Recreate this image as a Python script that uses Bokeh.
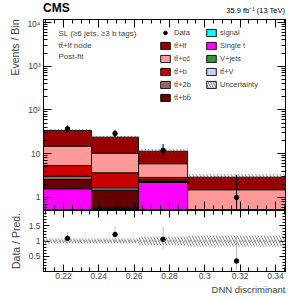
import numpy as np
from bokeh.plotting import figure
from bokeh.models import (FixedTicker, Range1d, LinearAxis, LogAxis, Legend,
                          LegendItem, Label, Title, ColumnDataSource, Span, Div)
from bokeh.layouts import column
from bokeh.embed import file_html
from bokeh.resources import INLINE

# ---------------- data ----------------
edges = [0.2087, 0.2359, 0.2625, 0.2903, 0.3457]
signal   = [0.08, 0.06, 0.06, 0.03]
ttV      = [0.10, 0.24, 0.08, 0.05]
vjets    = [0.05, 0.27, 0.02, 0.02]
single_t = [1.35, 0.01, 2.04, 0.05]
tt_bb    = [1.00, 0.87, 0.18, 0.10]
tt_2b    = [0.49, 0.22, 0.16, 0.05]
tt_b     = [2.32, 2.00, 0.33, 0.10]
tt_cc    = [9.51, 6.63, 3.03, 1.10]
tt_lf    = [19.1, 13.6, 5.50, 1.41]
data     = [37, 29, 12, 1]
data_lo  = [6.0, 5.3, 3.5, 0.83]
data_hi  = [7.1, 6.4, 4.6, 2.30]
rel_unc  = [0.08, 0.08, 0.14, 0.18]

x_ticks = [0.22, 0.24, 0.26, 0.28, 0.30, 0.32, 0.34]
x_tick_labels = ["0.22", "0.24", "0.26", "0.28", "0.3", "0.32", "0.34"]
y_ticks = [1, 10, 100, 1000, 10000]
y_tick_labels = ["1", "10", "10\u00b2", "10\u00b3", "10\u2074"]
r_ticks = [0.5, 1.0, 1.5]
r_tick_labels = ["0.5", "1", "1.5"]

# stack: bottom -> top
components = [
    ("signal", signal, "#00ffff"),
    ("tt\u0304+V", ttV, "#ccccff"),
    ("V+jets", vjets, "#339933"),
    ("Single t", single_t, "#ff00ff"),
    ("tt\u0304+bb\u0304", tt_bb, "#660000"),
    ("tt\u0304+2b", tt_2b, "#996666"),
    ("tt\u0304+b", tt_b, "#cc0000"),
    ("tt\u0304+cc\u0304", tt_cc, "#ff9999"),
    ("tt\u0304+lf", tt_lf, "#990000"),
]

FONT = "Liberation Sans"
left = np.array(edges[:-1])
right = np.array(edges[1:])
centers = (left + right) / 2
ymin, ymax = 0.53, 11700

header = Div(text=(
    '<div style="position:relative;width:291px;height:18px;font-family:\'Liberation Sans\',Arial,sans-serif;color:black;">'
    '<span style="position:absolute;left:43px;top:2px;font-size:12px;font-weight:bold;line-height:12px;">CMS</span>'
    '<span style="position:absolute;right:6px;top:7px;font-size:7.5px;line-height:8px;white-space:nowrap;">'
    '35.9 fb\u207b\u00b9 (13 TeV)</span></div>'),
    width=291, height=18, margin=0)

p = figure(width=291, height=192, y_axis_type="log",
           x_range=Range1d(edges[0], edges[-1]), y_range=Range1d(ymin, ymax),
           output_backend="svg", toolbar_location=None, title_location=None,
           min_border_left=43, min_border_right=6, min_border_top=1,
           min_border_bottom=1)
p.grid.visible = False
p.outline_line_color = "black"
p.background_fill_color = "white"

renderers = {}
bottom = np.full(4, 1e-3)
cum = np.zeros(4)
for name, vals, col in components:
    cum = cum + np.array(vals)
    src = ColumnDataSource(dict(left=left, right=right, bottom=bottom.copy(), top=cum.copy()))
    r = p.quad(left="left", right="right", bottom="bottom", top="top", source=src,
               fill_color=col, line_color="black", line_width=0.9)
    renderers[name] = r
    bottom = cum.copy()
total = cum

unc_src = ColumnDataSource(dict(left=left, right=right,
                                bottom=total * (1 - np.array(rel_unc)),
                                top=total * (1 + np.array(rel_unc))))
p.quad(left="left", right="right", bottom="bottom", top="top", source=unc_src,
       fill_alpha=0, line_alpha=0, hatch_pattern="\\", hatch_color="#444444",
       hatch_scale=7, hatch_weight=0.8, hatch_alpha=0.7)
unc_leg = p.quad(left=[0.5], right=[0.6], bottom=[1.0], top=[2.0], fill_alpha=0,
                 line_color="black", line_width=0.9, hatch_pattern="\\",
                 hatch_color="#444444", hatch_scale=5, hatch_weight=0.8)

d = np.array(data, dtype=float)
dsrc = ColumnDataSource(dict(x=centers, y=d, lo=d - np.array(data_lo), hi=d + np.array(data_hi)))
p.segment(x0="x", x1="x", y0="lo", y1="hi", source=dsrc, line_color="black", line_width=1)
data_r = p.scatter(x="x", y="y", source=dsrc, size=4.5, color="black")

def style_axis(ax, labels=True, major=8, minor=4, ticks=None, standoff=3):
    ax.major_tick_in = major
    ax.major_tick_out = 0
    ax.minor_tick_in = minor
    ax.minor_tick_out = 0
    ax.axis_line_color = "black"
    ax.major_tick_line_color = "black"
    ax.minor_tick_line_color = "black"
    ax.major_label_text_font = FONT
    ax.axis_label = None
    if labels:
        ax.major_label_text_font_size = "8.5px"
        ax.major_label_standoff = standoff
    else:
        ax.major_label_text_font_size = "1px"
        ax.major_label_text_alpha = 0
        ax.major_label_standoff = 0
        ax.major_label_overrides = {t: "" for t in ticks}

xt = FixedTicker(ticks=x_ticks, minor_ticks=[round(0.205 + 0.005 * i, 3) for i in range(30)])
yt = FixedTicker(ticks=y_ticks, minor_ticks=[k * 10.0 ** e for e in range(-1, 4) for k in range(2, 10)])
y_over = {t: l for t, l in zip(y_ticks, y_tick_labels)}

p.xaxis[0].ticker = xt
style_axis(p.xaxis[0], labels=False, ticks=x_ticks)
p.yaxis[0].ticker = yt
p.yaxis[0].major_label_overrides = y_over
style_axis(p.yaxis[0])
ax_top = LinearAxis(ticker=xt)
style_axis(ax_top, labels=False, ticks=x_ticks)
p.add_layout(ax_top, "above")
ax_right = LogAxis(ticker=yt)
style_axis(ax_right, labels=False, ticks=y_ticks)
p.add_layout(ax_right, "right")

p.add_layout(Title(text="Events / Bin", align="right", text_font=FONT,
                   text_font_size="10.5px", text_font_style="normal", standoff=8), "left")

for i, t in enumerate(["SL (\u22656 jets, \u22653 b tags)", "tt\u0304+lf node", "Post-fit"]):
    p.add_layout(Label(x=edges[0], y=ymax, x_offset=15, y_offset=-14 - 11.5 * i, text=t,
                       text_font=FONT, text_font_size="8px", text_baseline="middle"))

leg_common = dict(border_line_alpha=0, background_fill_alpha=0, padding=0, margin=0,
                  glyph_width=12, glyph_height=9, label_height=9, spacing=4,
                  label_standoff=3, label_text_font=FONT, label_text_font_size="7.5px")
items1 = [LegendItem(label="Data", renderers=[data_r])] + \
    [LegendItem(label=n, renderers=[renderers[n]]) for n in
     ["tt\u0304+lf", "tt\u0304+cc\u0304", "tt\u0304+b", "tt\u0304+2b", "tt\u0304+bb\u0304"]]
items2 = [LegendItem(label=n, renderers=[renderers[n]]) for n in
          ["signal", "Single t", "V+jets", "tt\u0304+V"]] + \
    [LegendItem(label="Uncertainty", renderers=[unc_leg])]
p.add_layout(Legend(items=items1, location=(116, 107), **leg_common))
p.add_layout(Legend(items=items2, location=(162, 120), **leg_common))

# ---------------- ratio panel ----------------
q = figure(width=291, height=90, x_range=p.x_range, y_range=Range1d(0, 2),
           output_backend="svg", toolbar_location=None, title_location=None,
           min_border_left=43, min_border_right=6, min_border_top=0,
           min_border_bottom=29)
q.grid.visible = False
q.outline_line_color = "black"

ru = np.array(rel_unc)
q.quad(left=left, right=right, bottom=1 - ru, top=1 + ru, fill_alpha=0, line_alpha=0,
       hatch_pattern="\\", hatch_color="#444444", hatch_scale=6, hatch_weight=0.8,
       hatch_alpha=0.8)
q.add_layout(Span(location=1, dimension="width", line_color="#888888",
                  line_dash="3 2", line_width=1))
rsrc = ColumnDataSource(dict(x=centers, y=d / total,
                             lo=(d - np.array(data_lo)) / total,
                             hi=(d + np.array(data_hi)) / total))
q.segment(x0="x", x1="x", y0="lo", y1="hi", source=rsrc, line_color="#bbbbbb", line_width=1)
q.scatter(x="x", y="y", source=rsrc, size=4.5, color="black")

rt = FixedTicker(ticks=r_ticks, minor_ticks=[round(0.1 * i, 1) for i in range(21)])
q.xaxis[0].ticker = xt
style_axis(q.xaxis[0], major=7, minor=4, standoff=1)
q.xaxis[0].major_label_overrides = {t: l for t, l in zip(x_ticks, x_tick_labels)}
q.yaxis[0].ticker = rt
style_axis(q.yaxis[0], major=6, minor=3)
q.yaxis[0].major_label_overrides = {t: l for t, l in zip(r_ticks, r_tick_labels)}
qt = LinearAxis(ticker=xt)
style_axis(qt, labels=False, major=7, minor=4, ticks=x_ticks)
q.add_layout(qt, "above")
qr = LinearAxis(ticker=rt)
style_axis(qr, labels=False, major=6, minor=3, ticks=r_ticks)
q.add_layout(qr, "right")
q.add_layout(Title(text="Data / Pred.", align="center", text_font=FONT,
                   text_font_size="10.5px", text_font_style="normal", standoff=8), "left")
q.add_layout(Title(text="DNN discriminant", align="right", text_font=FONT,
                   text_font_size="9.5px", text_font_style="normal", standoff=0), "below")

layout = column(header, p, q, spacing=0)
open("out.html", "w").write(file_html(layout, INLINE))
